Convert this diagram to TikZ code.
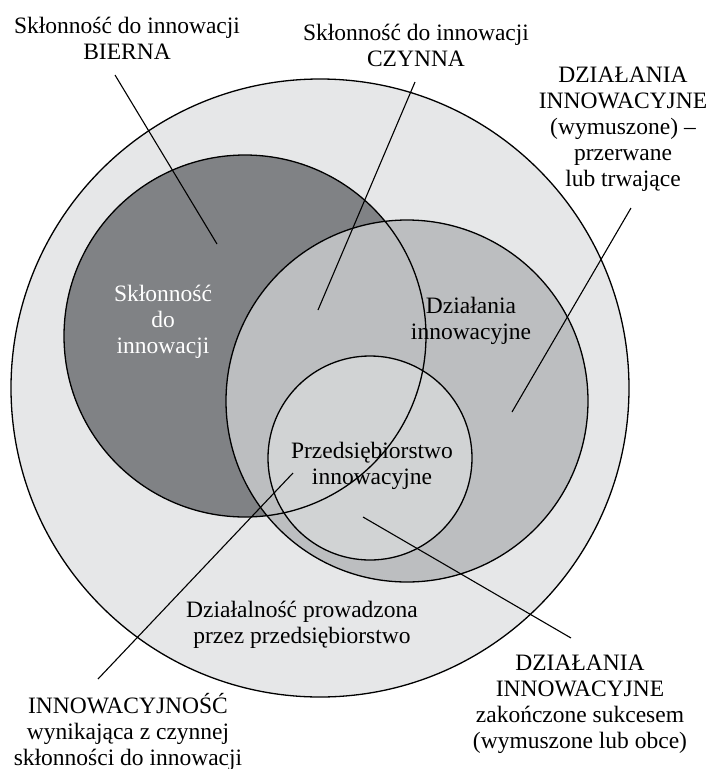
\documentclass[tikz,border=0pt]{standalone}
\usepackage{fontspec}
\setmainfont{Liberation Serif}
\definecolor{outerg}{HTML}{E6E7E8}
\definecolor{darkg}{HTML}{808285}
\definecolor{midg}{HTML}{BCBEC0}
\definecolor{smallg}{HTML}{D1D3D4}
\newcommand{\fs}{\rule{0pt}{22pt}}
\begin{document}
\begin{tikzpicture}[x=1pt,y=-1pt,
  lbl/.style={font=\fontsize{23.5}{26}\selectfont, align=center, inner sep=0pt, anchor=north},
  ring/.style={draw=black, line width=1.3pt},
  leader/.style={draw=black, line width=1.1pt}]
\useasboundingbox (0,0) rectangle (715,769);
% centres
\coordinate (co) at (320,388);
\coordinate (cd) at (245,336);
\coordinate (cm) at (407,401);
\coordinate (cs) at (370,458);
% fills
\fill[outerg] (co) circle[radius=309pt];
\fill[darkg] (cd) circle[radius=181pt];
\fill[midg] (cm) circle[radius=181pt];
\fill[smallg] (cs) circle[radius=102pt];
% outlines
\draw[ring] (co) circle[radius=309pt];
\draw[ring] (cd) circle[radius=181pt];
\draw[ring] (cm) circle[radius=181pt];
\draw[ring] (cs) circle[radius=102pt];
% labels
\node[lbl] (bierna) at (127,11) {\fs Skłonność do innowacji\\BIERNA};
\node[lbl] (czynna) at (416,18) {\fs Skłonność do innowacji\\CZYNNA};
\node[lbl] (przerw) at (623,60) {\fs DZIAŁANIA\\INNOWACYJNE\\(wymuszone) –\\przerwane\\lub trwające};
\node[lbl, text=white] (sklon) at (163,279) {\fs Skłonność\\do\\innowacji};
\node[lbl] (dzial) at (471,291) {\fs Działania\\innowacyjne};
\node[lbl] (przeds) at (372,436) {\fs Przedsiębiorstwo\\innowacyjne};
\node[lbl] (dzialn) at (302,595) {\fs Działalność prowadzona\\przez przedsiębiorstwo};
\node[lbl] (innow) at (128,691) {\fs INNOWACYJNOŚĆ\\wynikająca z czynnej\\skłonności do innowacji};
\node[lbl] (sukces) at (580,648) {\fs DZIAŁANIA\\INNOWACYJNE\\zakończone sukcesem\\(wymuszone lub obce)};
% leader end points
\coordinate (b1) at (115,75);  \coordinate (b2) at (217,244);
\coordinate (c1) at (415,82);  \coordinate (c2) at (318,310);
\coordinate (p1) at (631,208); \coordinate (p2) at (512,412);
\coordinate (i1) at (98,679);  \coordinate (i2) at (293,473);
\coordinate (s1) at (571,638); \coordinate (s2) at (363,517);
\draw[leader] (b1) -- (b2);
\draw[leader] (c1) -- (c2);
\draw[leader] (p1) -- (p2);
\draw[leader] (i1) -- (i2);
\draw[leader] (s1) -- (s2);
\end{tikzpicture}
\end{document}
